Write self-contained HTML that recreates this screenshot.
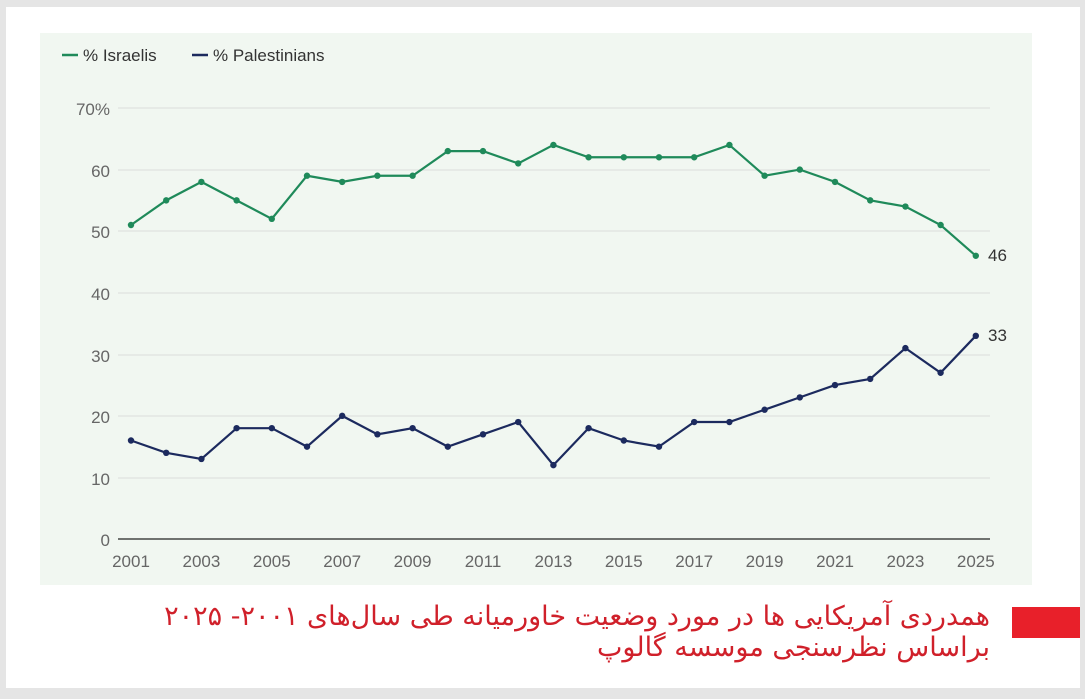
<!DOCTYPE html>
<html><head><meta charset="utf-8"><style>
body{margin:0;width:1085px;height:699px;background:#e5e5e5;overflow:hidden;font-family:"Liberation Sans",sans-serif}
#cap{position:absolute;right:95px;top:601px;width:950px;text-align:right;direction:rtl;font-family:"DejaVu Sans",sans-serif;font-size:27px;line-height:31px;color:#d0202a;white-space:nowrap;letter-spacing:-0.5px}
</style></head><body>
<svg width="1085" height="699" xmlns="http://www.w3.org/2000/svg" style="position:absolute;left:0;top:0">
<rect x="6" y="7" width="1074" height="681" fill="#fff"/>
<rect x="40" y="33" width="992" height="552" fill="#f1f7f1"/>
<g font-size="17" fill="#333">
<line x1="62" y1="55" x2="78" y2="55" stroke="#1f8a5a" stroke-width="2.5"/>
<text x="83" y="61">% Israelis</text>
<line x1="192" y1="55" x2="208" y2="55" stroke="#1c2a5e" stroke-width="2.5"/>
<text x="213" y="61">% Palestinians</text>
</g>
<g stroke="#dcdcdc" stroke-width="1">
<line x1="118" y1="108" x2="990" y2="108"/><line x1="118" y1="170" x2="990" y2="170"/>
<line x1="118" y1="231" x2="990" y2="231"/><line x1="118" y1="293" x2="990" y2="293"/>
<line x1="118" y1="355" x2="990" y2="355"/><line x1="118" y1="416" x2="990" y2="416"/>
<line x1="118" y1="478" x2="990" y2="478"/>
</g>
<line x1="118" y1="539" x2="990" y2="539" stroke="#222" stroke-width="1.2"/>
<g font-size="17" fill="#666" text-anchor="end">
<text x="110" y="115">70%</text><text x="110" y="177">60</text><text x="110" y="238">50</text>
<text x="110" y="300">40</text><text x="110" y="362">30</text><text x="110" y="423">20</text>
<text x="110" y="485">10</text><text x="110" y="546">0</text>
</g>
<g font-size="17" fill="#666" text-anchor="middle" id="xl"></g>
<g id="lines"></g>
<text x="988" y="261" font-size="17" fill="#333">46</text>
<text x="988" y="341" font-size="17" fill="#333">33</text>
<rect x="1012" y="607" width="68" height="31" fill="#e8202a"/>
</svg>
<div id="cap">همدردی آمریکایی ها در مورد وضعیت خاورمیانه طی سال‌های ۲۰۰۱- ۲۰۲۵<br>براساس نظرسنجی موسسه گالوپ</div>
<script>
var isr=[51,55,58,55,52,59,58,59,59,63,63,61,64,62,62,62,62,64,59,60,58,55,54,51,46];
var pal=[16,14,13,18,18,15,20,17,18,15,17,19,12,18,16,15,19,19,21,23,25,26,31,27,33];
var ns="http://www.w3.org/2000/svg";
function X(i){return 131+i*35.2}function Y(v){return 539-v*6.157}
var g=document.getElementById('lines');
[[isr,'#1f8a5a'],[pal,'#1c2a5e']].forEach(function(s){
var p=document.createElementNS(ns,'polyline');
p.setAttribute('points',s[0].map(function(v,i){return X(i)+','+Y(v)}).join(' '));
p.setAttribute('fill','none');p.setAttribute('stroke',s[1]);p.setAttribute('stroke-width','2.2');g.appendChild(p);
s[0].forEach(function(v,i){var c=document.createElementNS(ns,'circle');c.setAttribute('cx',X(i));c.setAttribute('cy',Y(v));c.setAttribute('r','3.2');c.setAttribute('fill',s[1]);g.appendChild(c);});
});
var xl=document.getElementById('xl');
for(var i=0;i<25;i+=2){var t=document.createElementNS(ns,'text');t.setAttribute('x',X(i));t.setAttribute('y',567);t.textContent=2001+i;xl.appendChild(t);}
</script>
</body></html>
